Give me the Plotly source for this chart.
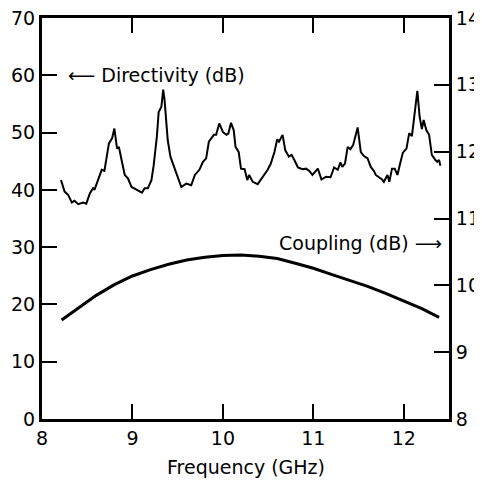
import plotly.graph_objects as go

# Directivity (dB), left axis
dir_freq = [8.21, 8.25, 8.29, 8.33, 8.36, 8.40, 8.455, 8.49, 8.53, 8.565, 8.58, 8.62, 8.66, 8.69,
            8.71, 8.74, 8.775, 8.80, 8.83, 8.85, 8.88, 8.915, 8.95, 8.99, 9.04, 9.105, 9.135, 9.17,
            9.21, 9.235, 9.27, 9.29, 9.32, 9.34, 9.355, 9.39, 9.42, 9.47, 9.50, 9.54, 9.595, 9.65,
            9.69, 9.74, 9.78, 9.815, 9.845, 9.87, 9.90, 9.925, 9.96, 10.00, 10.04, 10.06, 10.09,
            10.12, 10.14, 10.175, 10.20, 10.24, 10.27, 10.29, 10.33, 10.385, 10.42, 10.46, 10.495,
            10.53, 10.57, 10.60, 10.62, 10.66, 10.69, 10.73, 10.76, 10.79, 10.83, 10.88, 10.92,
            10.955, 10.99, 11.05, 11.09, 11.14, 11.19, 11.23, 11.27, 11.30, 11.32, 11.35, 11.38,
            11.41, 11.44, 11.49, 11.525, 11.56, 11.60, 11.635, 11.67, 11.69, 11.73, 11.76, 11.78,
            11.82, 11.84, 11.87, 11.90, 11.93, 11.955, 11.99, 12.03, 12.06, 12.09, 12.12, 12.15,
            12.175, 12.20, 12.22, 12.25, 12.28, 12.31, 12.35, 12.37, 12.39, 12.405]
dir_db = [41.7, 39.7, 39.1, 37.8, 38.1, 37.5, 37.8, 37.6, 39.4, 40.3, 40.0, 41.7, 43.5, 43.3,
          45.5, 48.1, 49.0, 50.7, 47.2, 47.5, 45.2, 42.6, 42.0, 40.5, 40.1, 39.5, 40.3, 40.3,
          41.7, 44.3, 49.3, 53.6, 54.5, 57.5, 55.7, 48.7, 45.8, 43.7, 42.3, 40.5, 41.1, 40.8,
          42.6, 43.5, 44.9, 45.5, 48.4, 49.0, 49.6, 49.6, 51.6, 50.1, 49.6, 49.8, 51.7,
          50.4, 47.5, 46.6, 43.7, 43.6, 41.7, 42.6, 41.4, 41.0, 41.8, 42.6, 43.5,
          44.6, 46.6, 48.8, 48.4, 49.6, 46.9, 45.8, 46.1, 45.2, 43.9, 43.6, 43.7,
          43.3, 42.6, 43.7, 41.8, 42.3, 42.2, 43.9, 43.5, 44.8, 44.0, 44.6, 47.5,
          47.1, 47.8, 50.9, 46.6, 45.9, 45.5, 44.0, 43.3, 42.6, 42.2, 41.8, 41.4,
          42.6, 41.4, 43.7, 43.7, 42.6, 44.3, 46.5, 47.2, 49.9, 49.4, 53.4, 57.3,
          52.8, 50.6, 52.2, 50.4, 49.6, 46.1, 45.2, 44.9, 45.2, 44.2]

# Coupling (dB), right axis
cpl_freq = [8.217, 8.4, 8.6, 8.8, 9.0, 9.2, 9.4, 9.6, 9.8, 10.0, 10.2, 10.4, 10.6, 10.8,
            11.0, 11.2, 11.4, 11.6, 11.8, 12.0, 12.2, 12.39]
cpl_db = [9.48, 9.66, 9.85, 10.01, 10.14, 10.235, 10.315, 10.38, 10.42, 10.445, 10.455, 10.435,
          10.40, 10.33, 10.255, 10.165, 10.08, 9.985, 9.88, 9.77, 9.65, 9.52]

x_ticks = [8, 9, 10, 11, 12]
y_ticks = [0, 10, 20, 30, 40, 50, 60, 70]
y2_ticks = [8, 9, 10, 11, 12, 13, 14]

FONT = "DejaVu Sans"
FS = 19
TXT = dict(family=FONT, size=FS, color="black")

fig = go.Figure()
fig.add_trace(go.Scatter(x=dir_freq, y=dir_db, mode="lines",
                         line=dict(color="black", width=2), yaxis="y", showlegend=False))
fig.add_trace(go.Scatter(x=cpl_freq, y=cpl_db, mode="lines",
                         line=dict(color="black", width=3), yaxis="y2", showlegend=False))


def axis(**kw):
    d = dict(showgrid=False, zeroline=False, showline=True, linecolor="black",
             linewidth=3, ticks="inside", ticklen=15, tickwidth=1.5, tickcolor="#000000",
             automargin=False, ticklabeloverflow="allow", tickfont=TXT)
    d.update(kw)
    return d


# page body has an 8px margin, so the figure is 8px smaller than the window
fig.update_layout(
    width=474, height=473,
    margin=dict(l=34, r=33, t=10, b=62),
    paper_bgcolor="white", plot_bgcolor="white",
    xaxis=axis(range=[8, 12.5], tickmode="array", tickvals=x_ticks, mirror="ticks"),
    yaxis=axis(range=[0, 70], tickmode="array", tickvals=y_ticks),
    yaxis2=axis(range=[8, 14], tickmode="array", tickvals=y2_ticks, overlaying="y",
                side="right"),
    annotations=[
        dict(x=0.5, y=0, xref="paper", yref="paper", yshift=-48, text="Frequency (GHz)",
             showarrow=False, xanchor="center", yanchor="middle", font=TXT),
        dict(x=8.262, y=60, xref="x", yref="y", text="\u27f5 Directivity (dB)",
             showarrow=False, xanchor="left", yanchor="middle", font=TXT),
        dict(x=12.44, y=10.64, xref="x", yref="y2", text="Coupling (dB) \u27f6",
             showarrow=False, xanchor="right", yanchor="middle", font=TXT),
    ],
)

fig.write_html("out.html")
